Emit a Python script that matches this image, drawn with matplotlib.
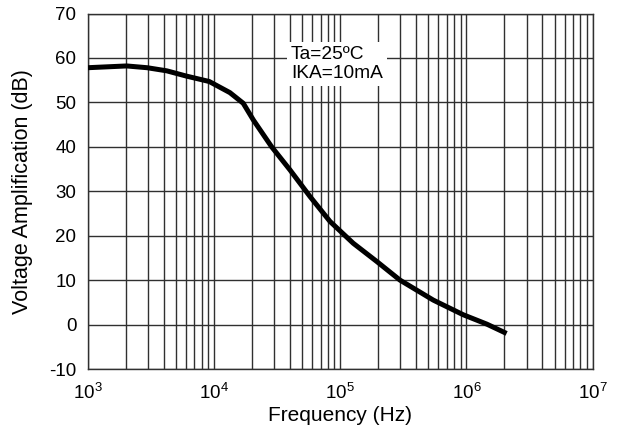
import numpy as np
import matplotlib
matplotlib.use('Agg')
import matplotlib.pyplot as plt
from matplotlib.ticker import LogLocator, FixedLocator

plt.rcParams['font.family'] = ['Liberation Sans', 'DejaVu Sans']
plt.rcParams['mathtext.fontset'] = 'custom'
plt.rcParams['mathtext.rm'] = 'Liberation Sans'
plt.rcParams['mathtext.it'] = 'Liberation Sans'
plt.rcParams['axes.unicode_minus'] = False

# curve
freq = [1.0e3, 2.04e3, 2.97e3, 4.24e3, 6.1e3, 9.2e3, 1.34e4, 1.71e4, 2.06e4,
        2.87e4, 4.01e4, 5.78e4, 8.32e4, 1.27e5, 1.95e5, 2.98e5, 5.47e5,
        9.45e5, 1.45e6, 2.08e6]
gain = [57.8, 58.2, 57.8, 57.1, 55.9, 54.7, 52.2, 49.8, 46.0,
        40.0, 34.8, 28.8, 23.2, 18.3, 14.2, 10.0, 5.5,
        2.2, 0.1, -2.0]

y_ticks = [-10, 0, 10, 20, 30, 40, 50, 60, 70]
note = "Ta=25ºC\nIKA=10mA"

fig = plt.figure(figsize=(6.18, 4.33), dpi=100)
ax = fig.add_axes([0.1416, 0.1478, 0.8175, 0.8210])

ax.set_xscale('log')
ax.set_xlim(1e3, 1e7)
ax.set_ylim(-10, 70)
ax.yaxis.set_major_locator(FixedLocator(y_ticks))
ax.xaxis.set_major_locator(LogLocator(base=10, numticks=10))
ax.xaxis.set_minor_locator(LogLocator(base=10, subs=np.arange(2, 10), numticks=100))
ax.xaxis.set_minor_formatter(plt.NullFormatter())

ax.grid(True, which='major', color='#303030', lw=1.0)
ax.grid(True, which='minor', axis='x', color='#303030', lw=1.0)
ax.tick_params(which='both', length=0)
ax.tick_params(axis='x', labelsize=13.5, pad=10)
ax.tick_params(axis='y', labelsize=13.5, pad=8)
ax.set_axisbelow(True)

for s in ax.spines.values():
    s.set_color('#303030')
    s.set_linewidth(1.0)

ax.plot(freq, gain, color='black', lw=3.6, solid_capstyle='butt',
        solid_joinstyle='round', zorder=3)

ax.text(0.403, 0.858, note, transform=ax.transAxes, fontsize=13.8, va='center',
        ha='left', linespacing=1.15,
        bbox=dict(facecolor='white', edgecolor='none', pad=3), zorder=4)

ax.set_xlabel('Frequency (Hz)', fontsize=15, labelpad=2)
ax.set_ylabel('Voltage Amplification (dB)', fontsize=15.5)
ax.yaxis.set_label_coords(-0.108, 0.5)

fig.savefig('out.png', dpi=100)
